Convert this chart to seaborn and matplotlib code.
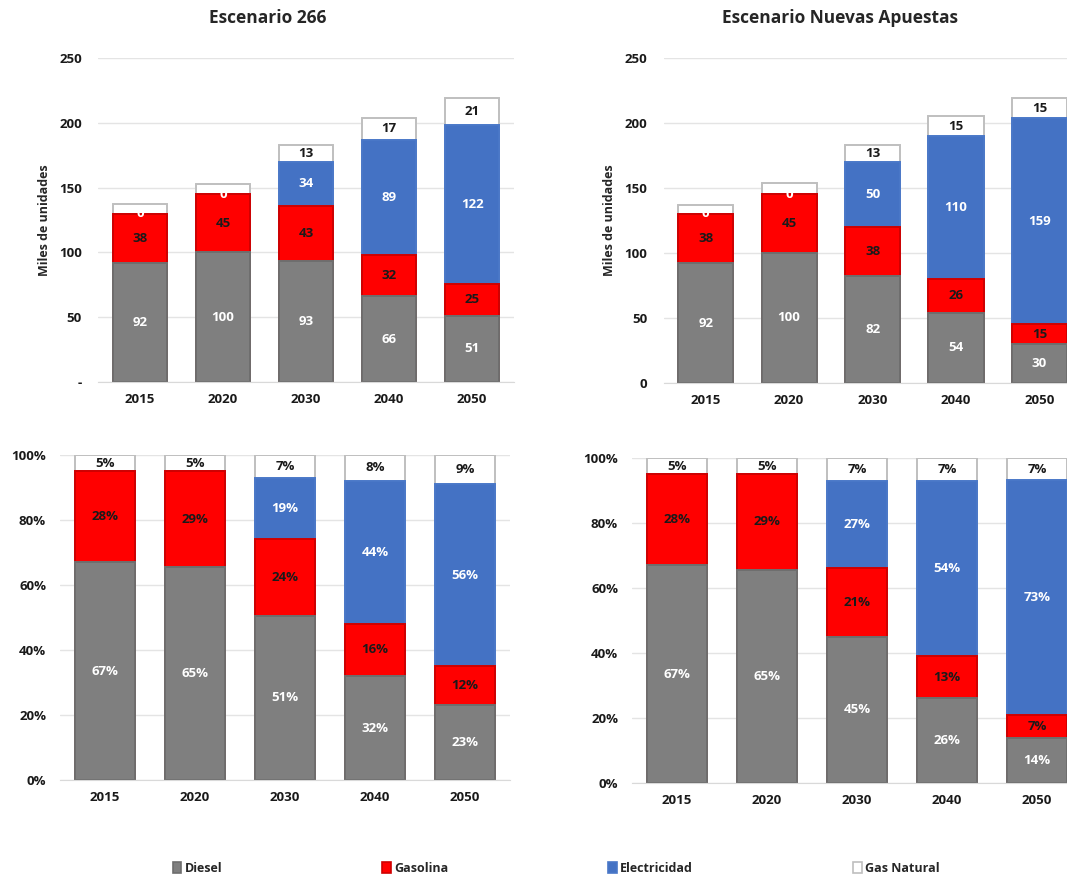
import matplotlib
matplotlib.use("Agg")
import matplotlib.pyplot as plt
import seaborn as sns
import numpy as np
import pandas as pd
from matplotlib.patches import Patch

# ---------------- data ----------------
years = ["2015", "2020", "2030", "2040", "2050"]
series = ["Diesel", "Gasolina", "Electricidad", "Gas Natural"]

# Escenario 266 (miles de unidades)
e266_diesel = [92, 100, 93, 66, 51]
e266_gasolina = [38, 45, 43, 32, 25]
e266_elec = [0, 0, 34, 89, 122]
e266_gas = [7, 8, 13, 17, 21]

# Escenario Nuevas Apuestas (miles de unidades)
nva_diesel = [92, 100, 82, 54, 30]
nva_gasolina = [38, 45, 38, 26, 15]
nva_elec = [0, 0, 50, 110, 159]
nva_gas = [7, 9, 13, 15, 15]

# Shares (%)
p266_diesel = [67, 65, 51, 32, 23]
p266_gasolina = [28, 29, 24, 16, 12]
p266_elec = [0, 0, 19, 44, 56]
p266_gas = [5, 5, 7, 8, 9]

pnva_diesel = [67, 65, 45, 26, 14]
pnva_gasolina = [28, 29, 21, 13, 7]
pnva_elec = [0, 0, 27, 54, 73]
pnva_gas = [5, 5, 7, 7, 7]

titles = ["Escenario 266", "Escenario Nuevas Apuestas"]
ylabel = "Miles de unidades"

# ---------------- style ----------------
sns.set_style("white")
plt.rcParams['font.family'] = ['Open Sans', 'DejaVu Sans']
plt.rcParams['font.weight'] = 'bold'

fills = ["#7F7F7F", "#FF0000", "#4472C4", "#FFFFFF"]
edges = ["#6E6E6E", "#D00000", "#4A78C8", "#BFBFBF"]
txtcol = ["white", "#1a1a1a", "white", "#1a1a1a"]
grid_c = "#E4E4E4"

fig = plt.figure(figsize=(10.67, 8.77), dpi=100)


def draw_stack(ax, layers, pct, ypad):
    vals = np.array(layers, dtype=float)
    if pct:
        heights = vals / vals.sum(axis=0) * 100.0
    else:
        heights = vals
    cum = np.cumsum(heights, axis=0)
    for i in reversed(range(len(series))):
        df = pd.DataFrame({"year": years, "v": cum[i]})
        sns.barplot(data=df, x="year", y="v", color=fills[i], saturation=1,
                    edgecolor=edges[i], linewidth=1.4, width=0.66, ax=ax,
                    errorbar=None)
    for i in range(len(series)):
        for j in range(len(years)):
            v = vals[i, j]
            mid = cum[i, j] - heights[i, j] / 2
            if pct:
                if v == 0:
                    continue
                s = f"{int(v)}%"
            else:
                if i == 3 and v < 10:
                    continue
                s = f"{int(v)}"
            ax.text(j, mid, s, ha="center", va="center", color=txtcol[i],
                    fontsize=9.5, fontweight="bold")
    ax.set_xlim(-0.5, 4.5)
    ax.set_xlabel("")
    ax.yaxis.grid(True, color=grid_c, linewidth=1)
    ax.set_axisbelow(True)
    for s in ["top", "right", "left"]:
        ax.spines[s].set_visible(False)
    ax.spines["bottom"].set_color("#D9D9D9")
    ax.tick_params(axis="both", length=0, labelsize=9.5, colors="#1a1a1a")
    ax.tick_params(axis="x", pad=8)
    ax.tick_params(axis="y", pad=ypad)


def bold_ticks(ax):
    for lab in ax.get_xticklabels() + ax.get_yticklabels():
        lab.set_fontweight("bold")


ticks_abs = [0, 50, 100, 150, 200, 250]
ticks_pct = [0, 20, 40, 60, 80, 100]

# top-left
ax1 = fig.add_axes([0.0923, 0.5644, 0.389, 0.3695])
draw_stack(ax1, [e266_diesel, e266_gasolina, e266_elec, e266_gas], False, 12)
ax1.set_ylim(0, 250)
ax1.set_yticks(ticks_abs)
ax1.set_yticklabels(["-"] + [str(t) for t in ticks_abs[1:]])
ax1.set_ylabel(ylabel, fontsize=9, fontweight="bold", labelpad=6)

# top-right
ax2 = fig.add_axes([0.6223, 0.5633, 0.391, 0.3706])
draw_stack(ax2, [nva_diesel, nva_gasolina, nva_elec, nva_gas], False, 12)
ax2.set_ylim(0, 250)
ax2.set_yticks(ticks_abs)
ax2.set_yticklabels([str(t) for t in ticks_abs])
ax2.set_ylabel(ylabel, fontsize=9, fontweight="bold", labelpad=6)

# bottom-left
ax3 = fig.add_axes([0.0562, 0.1106, 0.4217, 0.3706])
draw_stack(ax3, [p266_diesel, p266_gasolina, p266_elec, p266_gas], True, 10)
ax3.set_ylim(0, 100)
ax3.set_yticks(ticks_pct)
ax3.set_yticklabels([f"{t}%" for t in ticks_pct])
ax3.set_ylabel("")

# bottom-right
ax4 = fig.add_axes([0.5923, 0.1072, 0.4217, 0.3706])
draw_stack(ax4, [pnva_diesel, pnva_gasolina, pnva_elec, pnva_gas], True, 10)
ax4.set_ylim(0, 100)
ax4.set_yticks(ticks_pct)
ax4.set_yticklabels([f"{t}%" for t in ticks_pct])
ax4.set_ylabel("")

for ax in (ax1, ax2, ax3, ax4):
    bold_ticks(ax)

fig.text(268 / 1067, 1 - 18 / 877, titles[0], ha="center", va="center",
         fontsize=12.5, fontweight="bold")
fig.text(840 / 1067, 1 - 18 / 877, titles[1], ha="center", va="center",
         fontsize=12.5, fontweight="bold")

handles = [Patch(facecolor=fills[i], edgecolor=edges[i], linewidth=1.2, label=series[i])
           for i in range(len(series))]
fig.legend(handles=handles, loc="center", bbox_to_anchor=(556 / 1067, 1 - 868 / 877),
           ncol=4, frameon=False, handlelength=0.7, handleheight=1.0,
           handletextpad=0.25, columnspacing=12.8, prop={"weight": "bold", "size": 9})

fig.savefig("out.png", dpi=100, facecolor="white")
